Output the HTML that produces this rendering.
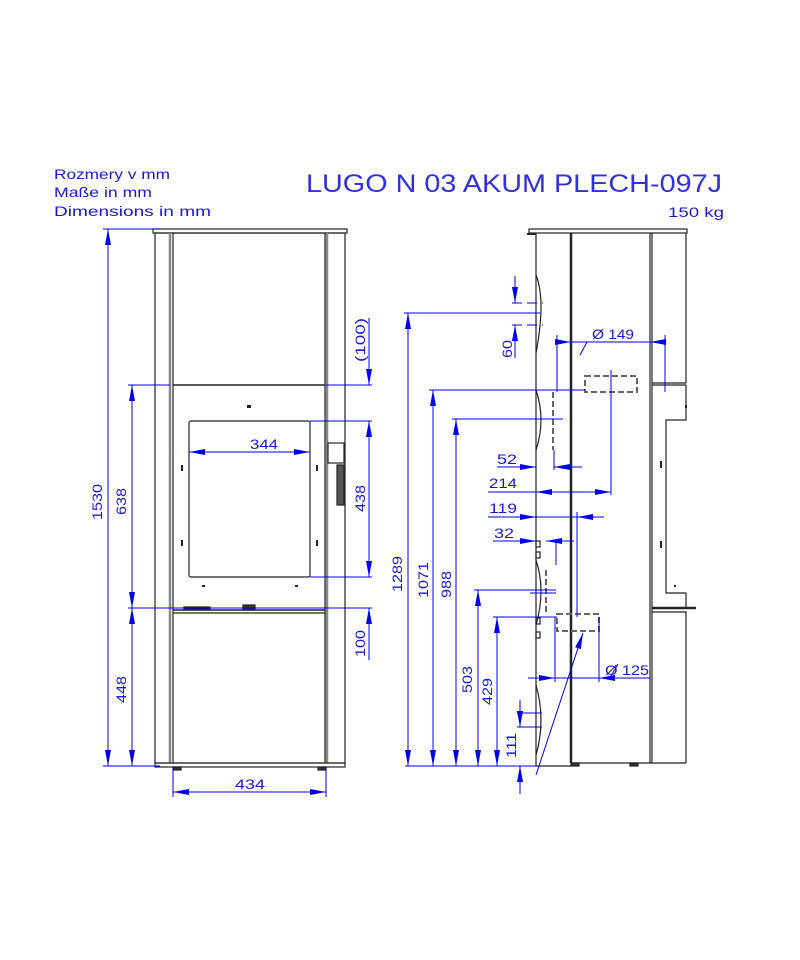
<!DOCTYPE html>
<html><head><meta charset="utf-8"><style>
html,body{margin:0;padding:0;background:#fff;}
svg{display:block}
text{font-family:"Liberation Sans","DejaVu Sans Condensed",sans-serif;fill:#1a1acc;font-size:14px;}
</style></head><body>
<svg width="800" height="960" viewBox="0 0 800 960" xmlns="http://www.w3.org/2000/svg">
<defs>
<marker id="a" viewBox="0 0 16 6" refX="16" refY="3" markerWidth="16" markerHeight="6" markerUnits="userSpaceOnUse" orient="auto-start-reverse">
<path d="M0,0 L16,3 L0,6 Z" fill="#0000ee"/></marker>
</defs>

<!-- Header text -->
<text x="54" y="179" textLength="116" lengthAdjust="spacingAndGlyphs">Rozmery v mm</text>
<text x="54" y="197" textLength="98" lengthAdjust="spacingAndGlyphs">Maße in mm</text>
<text x="54" y="216" textLength="157" lengthAdjust="spacingAndGlyphs">Dimensions in mm</text>
<text x="306" y="192" textLength="416" lengthAdjust="spacingAndGlyphs" style="font-size:25px;fill:#3030dd">LUGO N 03 AKUM PLECH-097J</text>
<text x="668" y="217" textLength="56" lengthAdjust="spacingAndGlyphs">150 kg</text>

<!-- FRONT VIEW -->
<g fill="none" stroke="#222" stroke-width="1.2">
<rect x="153" y="229" width="194" height="4"/>
<rect x="155" y="233" width="190" height="530"/>
<line x1="170" y1="233" x2="170" y2="763" stroke="#888" stroke-width="2.5"/>
<line x1="327" y1="233" x2="327" y2="763" stroke="#888" stroke-width="2.5"/>
<line x1="173" y1="233" x2="173" y2="763"/>
<line x1="325" y1="233" x2="325" y2="763"/>
<line x1="173" y1="385" x2="325" y2="385" stroke-width="1.5"/>
<line x1="173" y1="610" x2="325" y2="610" stroke-width="1.5"/>
<line x1="173" y1="613" x2="325" y2="613"/>
<rect x="189" y="421" width="121" height="156" rx="2"/>
<rect x="155" y="763" width="190" height="4"/>
<rect x="173" y="767" width="8" height="3" fill="#333"/>
<rect x="318" y="767" width="8" height="3" fill="#333"/>
<rect x="243" y="605" width="12" height="5" fill="#333"/>
<rect x="184" y="607" width="26" height="2" fill="#333"/>
<rect x="328" y="443" width="16" height="20" fill="#fff"/>
<rect x="337" y="465" width="7" height="40" fill="#555"/>
</g>
<g fill="#222">
<rect x="247" y="405" width="4" height="3"/>
<rect x="181" y="465" width="2" height="6"/><rect x="316" y="465" width="2" height="6"/>
<rect x="181" y="540" width="2" height="6"/><rect x="316" y="540" width="2" height="6"/>
<rect x="202" y="585" width="3" height="2"/><rect x="295" y="585" width="3" height="2"/>
</g>

<!-- front dims -->
<g stroke="#0000ee" stroke-width="1" fill="none">
<line x1="103" y1="229" x2="160" y2="229"/>
<line x1="103" y1="766" x2="160" y2="766"/>
<line x1="108" y1="229" x2="108" y2="766" marker-start="url(#a)" marker-end="url(#a)"/>
<line x1="128" y1="385" x2="170" y2="385"/>
<line x1="128" y1="608" x2="372" y2="608"/>
<line x1="132" y1="385" x2="132" y2="608" marker-start="url(#a)" marker-end="url(#a)"/>
<line x1="132" y1="608" x2="132" y2="766" marker-start="url(#a)" marker-end="url(#a)"/>
<line x1="326" y1="385" x2="372" y2="385"/>
<line x1="310" y1="421" x2="372" y2="421"/>
<line x1="310" y1="577" x2="372" y2="577"/>
<line x1="369" y1="318" x2="369" y2="385" marker-end="url(#a)"/>
<line x1="369" y1="421" x2="369" y2="577" marker-start="url(#a)" marker-end="url(#a)"/>
<line x1="369" y1="660" x2="369" y2="608" marker-end="url(#a)"/>
<line x1="189" y1="452" x2="310" y2="452" marker-start="url(#a)" marker-end="url(#a)"/>
<line x1="173" y1="767" x2="173" y2="797"/>
<line x1="326" y1="767" x2="326" y2="797"/>
<line x1="173" y1="792" x2="326" y2="792" marker-start="url(#a)" marker-end="url(#a)"/>
</g>
<text x="250" y="449" textLength="28" lengthAdjust="spacingAndGlyphs">344</text>
<text x="235" y="789" textLength="30" lengthAdjust="spacingAndGlyphs">434</text>
<text transform="translate(102,520) rotate(-90)" textLength="36" lengthAdjust="spacingAndGlyphs">1530</text>
<text transform="translate(126,515) rotate(-90)" textLength="27" lengthAdjust="spacingAndGlyphs">638</text>
<text transform="translate(126,703) rotate(-90)" textLength="27" lengthAdjust="spacingAndGlyphs">448</text>
<text transform="translate(365,362) rotate(-90)" textLength="44" lengthAdjust="spacingAndGlyphs">(100)</text>
<text transform="translate(365,512) rotate(-90)" textLength="27" lengthAdjust="spacingAndGlyphs">438</text>
<text transform="translate(365,657) rotate(-90)" textLength="27" lengthAdjust="spacingAndGlyphs">100</text>

<!-- SIDE VIEW -->
<g fill="none" stroke="#222" stroke-width="1.2">
<rect x="529" y="229" width="158" height="4"/>
<line x1="536" y1="233" x2="536" y2="766"/>
<line x1="571" y1="233" x2="571" y2="763" stroke-width="2.5"/>
<line x1="650" y1="233" x2="650" y2="763"/>
<line x1="652" y1="233" x2="652" y2="763"/>
<line x1="686" y1="233" x2="686" y2="383"/>
<line x1="652" y1="383" x2="686" y2="383"/>
<line x1="652" y1="385" x2="686" y2="385"/>
<polyline points="686,385 686,420 666,420 666,593 686,593 686,608"/>
<line x1="652" y1="608" x2="696" y2="608" stroke-width="2.5"/>
<polyline points="652,612 686,612 686,763"/>
<line x1="571" y1="763" x2="686" y2="763"/>
<line x1="536" y1="766" x2="571" y2="766"/>
<path d="M536,275 Q546,300 536,353"/>
<path d="M536,390 Q546,420 536,450"/>
<path d="M536,560 Q546,590 536,625"/>
<path d="M536,685 Q546,720 536,755"/>
<rect x="536" y="541" width="4" height="6"/><rect x="536" y="552" width="4" height="6"/>
<rect x="536" y="618" width="4" height="6"/><rect x="536" y="632" width="4" height="6"/>
<rect x="571" y="763" width="8" height="3" fill="#333"/>
<rect x="630" y="763" width="8" height="3" fill="#333"/>
<line x1="527" y1="234" x2="536" y2="234" stroke-width="2"/>
</g>
<g fill="#222"><rect x="660" y="461" width="2" height="7"/><rect x="660" y="541" width="2" height="7"/><rect x="674" y="585" width="2" height="2"/><rect x="685" y="405" width="2" height="3"/></g>
<g fill="none" stroke="#666" stroke-width="2" stroke-dasharray="6,3">
<rect x="585" y="376" width="52" height="16"/>
<rect x="557" y="614" width="42" height="17"/>
<line x1="553" y1="392" x2="553" y2="450"/>
<line x1="546" y1="570" x2="546" y2="612"/>
</g>

<!-- side dims -->
<g stroke="#0000ee" stroke-width="1" fill="none">
<line x1="405" y1="766" x2="536" y2="766"/>
<line x1="404" y1="313" x2="540" y2="313"/>
<line x1="408" y1="313" x2="408" y2="766" marker-start="url(#a)" marker-end="url(#a)"/>
<line x1="429" y1="390" x2="585" y2="390"/>
<line x1="433" y1="390" x2="433" y2="766" marker-start="url(#a)" marker-end="url(#a)"/>
<line x1="452" y1="419" x2="563" y2="419"/>
<line x1="456" y1="419" x2="456" y2="766" marker-start="url(#a)" marker-end="url(#a)"/>
<line x1="474" y1="590" x2="556" y2="590"/>
<line x1="478" y1="590" x2="478" y2="766" marker-start="url(#a)" marker-end="url(#a)"/>
<line x1="493" y1="617" x2="557" y2="617"/>
<line x1="497" y1="617" x2="497" y2="766" marker-start="url(#a)" marker-end="url(#a)"/>
<g stroke-dasharray="10,5"><line x1="512" y1="303" x2="543" y2="303"/><line x1="512" y1="325" x2="543" y2="325"/></g>
<line x1="515" y1="276" x2="515" y2="303" marker-end="url(#a)"/>
<line x1="515" y1="358" x2="515" y2="325" marker-end="url(#a)"/>
<line x1="517" y1="713" x2="542" y2="713"/><line x1="517" y1="727" x2="542" y2="727"/>
<line x1="520" y1="700" x2="520" y2="727" marker-end="url(#a)"/>
<line x1="520" y1="794" x2="520" y2="766" marker-end="url(#a)"/>
<line x1="557" y1="335" x2="557" y2="392"/>
<line x1="665" y1="335" x2="665" y2="392"/>
<line x1="557" y1="342" x2="571" y2="342" marker-end="url(#a)"/>
<line x1="665" y1="342" x2="650" y2="342" marker-end="url(#a)"/>
<line x1="557" y1="342" x2="665" y2="342"/>
<line x1="587" y1="342" x2="580" y2="355"/>
<line x1="611" y1="370" x2="611" y2="495"/>
<line x1="554" y1="450" x2="554" y2="470"/>
<line x1="497" y1="467" x2="536" y2="467" marker-end="url(#a)"/>
<line x1="582" y1="467" x2="554" y2="467" marker-end="url(#a)"/>
<line x1="488" y1="492" x2="611" y2="492"/>
<line x1="555" y1="492" x2="536" y2="492" marker-end="url(#a)"/>
<line x1="590" y1="492" x2="611" y2="492" marker-end="url(#a)"/>
<line x1="577" y1="512" x2="577" y2="617"/>
<line x1="488" y1="517" x2="536" y2="517" marker-end="url(#a)"/>
<line x1="604" y1="517" x2="577" y2="517" marker-end="url(#a)"/>
<line x1="536" y1="517" x2="577" y2="517"/>
<line x1="493" y1="541" x2="536" y2="541" marker-end="url(#a)"/>
<line x1="574" y1="541" x2="546" y2="541" marker-end="url(#a)"/>
<line x1="556" y1="540" x2="556" y2="565"/>
<line x1="555" y1="617" x2="555" y2="682"/>
<line x1="599" y1="617" x2="599" y2="682"/>
<line x1="528" y1="678" x2="650" y2="678"/>
<line x1="537" y1="678" x2="555" y2="678" marker-end="url(#a)"/>
<line x1="620" y1="678" x2="599" y2="678" marker-end="url(#a)"/>
<line x1="611" y1="676" x2="618" y2="664"/>
<line x1="536" y1="775" x2="583" y2="633" marker-end="url(#a)"/>
<line x1="530" y1="593" x2="556" y2="593"/>
</g>
<text x="592" y="339" textLength="42" lengthAdjust="spacingAndGlyphs">Ø 149</text>
<text x="497" y="464" textLength="20" lengthAdjust="spacingAndGlyphs">52</text>
<text x="489" y="488" textLength="28" lengthAdjust="spacingAndGlyphs">214</text>
<text x="489" y="513" textLength="28" lengthAdjust="spacingAndGlyphs">119</text>
<text x="494" y="538" textLength="20" lengthAdjust="spacingAndGlyphs">32</text>
<text x="605" y="675" textLength="44" lengthAdjust="spacingAndGlyphs">Ø 125</text>
<text transform="translate(512,358) rotate(-90)" textLength="18" lengthAdjust="spacingAndGlyphs">60</text>
<text transform="translate(516,758) rotate(-90)" textLength="25" lengthAdjust="spacingAndGlyphs">111</text>
<text transform="translate(402,592) rotate(-90)" textLength="36" lengthAdjust="spacingAndGlyphs">1289</text>
<text transform="translate(428,598) rotate(-90)" textLength="36" lengthAdjust="spacingAndGlyphs">1071</text>
<text transform="translate(451,598) rotate(-90)" textLength="27" lengthAdjust="spacingAndGlyphs">988</text>
<text transform="translate(472,693) rotate(-90)" textLength="27" lengthAdjust="spacingAndGlyphs">503</text>
<text transform="translate(492,705) rotate(-90)" textLength="27" lengthAdjust="spacingAndGlyphs">429</text>
</svg>
</body></html>
